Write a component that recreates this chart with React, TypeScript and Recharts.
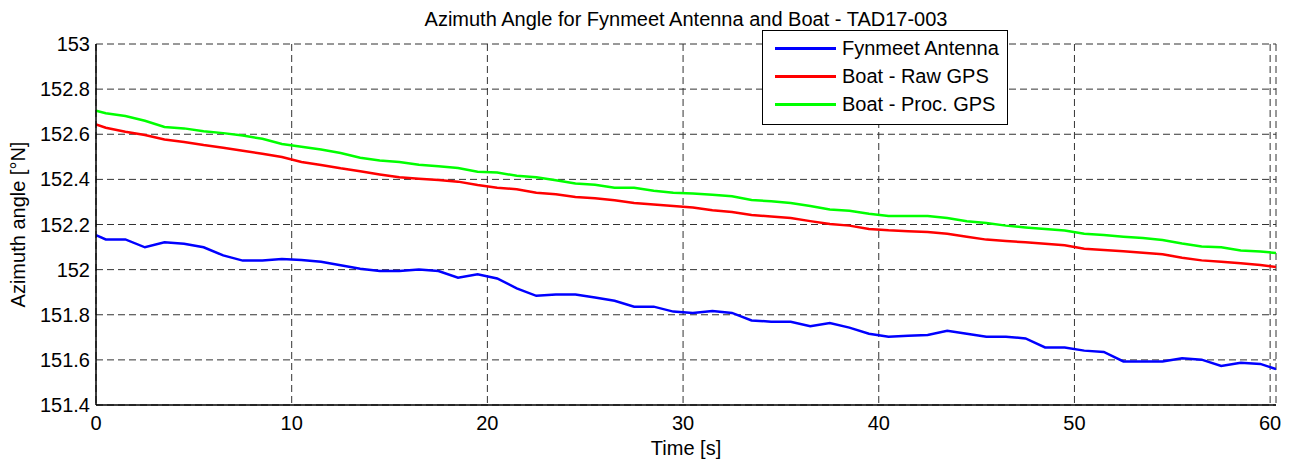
import React from 'react';
import {
  LineChart,
  Line,
  XAxis,
  YAxis,
  CartesianGrid,
  Legend,
} from 'recharts';

const timeS = [
  0, 0.5, 1.5, 2.5, 3.5, 4.5, 5.5, 6.5, 7.5, 8.5, 9.5, 10.5, 11.5, 12.5, 13.5, 14.5,
  15.5, 16.5, 17.5, 18.5, 19.5, 20.5, 21.5, 22.5, 23.5, 24.5, 25.5, 26.5, 27.5, 28.5,
  29.5, 30.5, 31.5, 32.5, 33.5, 34.5, 35.5, 36.5, 37.5, 38.5, 39.5, 40.5, 41.5, 42.5,
  43.5, 44.5, 45.5, 46.5, 47.5, 48.5, 49.5, 50.5, 51.5, 52.5, 53.5, 54.5, 55.5, 56.5,
  57.5, 58.5, 59.5, 60.3,
];

const fynmeetAntenna = [
  152.153, 152.134, 152.134, 152.099, 152.121, 152.115, 152.099, 152.063, 152.04, 152.04,
  152.047, 152.043, 152.035, 152.019, 152.004, 151.994, 151.994, 152.0, 151.994, 151.964,
  151.979, 151.961, 151.917, 151.884, 151.89, 151.89, 151.876, 151.862, 151.836, 151.836,
  151.814, 151.808, 151.817, 151.808, 151.775, 151.769, 151.769, 151.749, 151.763, 151.743,
  151.716, 151.703, 151.707, 151.71, 151.729, 151.716, 151.703, 151.703, 151.695, 151.655,
  151.655, 151.641, 151.635, 151.593, 151.593, 151.593, 151.607, 151.601, 151.573, 151.587,
  151.582, 151.559,
];

const boatRawGps = [
  152.644, 152.629, 152.611, 152.597, 152.577, 152.566, 152.552, 152.54, 152.527, 152.514,
  152.499, 152.477, 152.464, 152.449, 152.436, 152.422, 152.409, 152.403, 152.397, 152.39,
  152.375, 152.363, 152.356, 152.341, 152.334, 152.322, 152.316, 152.307, 152.295, 152.289,
  152.282, 152.275, 152.263, 152.255, 152.242, 152.236, 152.229, 152.215, 152.202, 152.195,
  152.18, 152.174, 152.17, 152.167, 152.159, 152.146, 152.133, 152.127, 152.121, 152.115,
  152.108, 152.093, 152.087, 152.081, 152.075, 152.068, 152.053, 152.041, 152.035, 152.028,
  152.02, 152.012,
];

const boatProcGps = [
  152.704, 152.693, 152.681, 152.66, 152.632, 152.626, 152.613, 152.605, 152.594, 152.58,
  152.557, 152.545, 152.532, 152.517, 152.496, 152.484, 152.477, 152.465, 152.458, 152.45,
  152.434, 152.43, 152.416, 152.409, 152.396, 152.382, 152.376, 152.363, 152.363, 152.35,
  152.341, 152.337, 152.332, 152.325, 152.309, 152.303, 152.295, 152.282, 152.267, 152.261,
  152.248, 152.238, 152.238, 152.238, 152.229, 152.214, 152.207, 152.195, 152.187, 152.18,
  152.173, 152.159, 152.153, 152.146, 152.14, 152.131, 152.116, 152.103, 152.099, 152.085,
  152.08, 152.074,
];

const xTicks = [0, 10, 20, 30, 40, 50, 60];
const yTicks = [151.4, 151.6, 151.8, 152, 152.2, 152.4, 152.6, 152.8, 153];
const xDomain = [0, 60.3];
const yDomain = [151.4, 153];

const seriesNames = ['Fynmeet Antenna', 'Boat - Raw GPS', 'Boat - Proc. GPS'];
const seriesKeys = ['antenna', 'raw', 'proc'];
const seriesColors = ['#0000ff', '#ff0000', '#00ff00'];

const titleText = 'Azimuth Angle for Fynmeet Antenna and Boat - TAD17-003';
const xLabelText = 'Time [s]';
const yLabelText = 'Azimuth angle [\u00B0N]';

const data = timeS.map((t, i) => ({
  t,
  antenna: fynmeetAntenna[i],
  raw: boatRawGps[i],
  proc: boatProcGps[i],
}));

const FONT = "'Liberation Sans', Arial, Helvetica, sans-serif";
const FS = 20;

const fmtY = (v: number) => String(Math.round(v * 10) / 10);

const LegendBox = () => (
  <div
    style={{
      width: 244,
      height: 90,
      border: '1px solid #000',
      background: '#fff',
      paddingTop: 3,
      boxSizing: 'content-box',
      fontFamily: FONT,
      fontSize: FS,
      color: '#000',
    }}
  >
    {seriesNames.map((n, i) => (
      <div
        key={n}
        style={{ height: 28.3, display: 'flex', alignItems: 'center' }}
      >
        <div
          style={{
            marginLeft: 12,
            width: 61,
            height: 3,
            background: seriesColors[i],
          }}
        />
        <span style={{ marginLeft: 6, whiteSpace: 'nowrap' }}>{n}</span>
      </div>
    ))}
  </div>
);

const YLabel = (props: any) => {
  const vb = props.viewBox || { x: 0, y: 44, width: 96, height: 361 };
  const cy = vb.y + vb.height / 2;
  const cx = 18;
  return (
    <text
      x={cx}
      y={cy}
      transform={`rotate(-90 ${cx} ${cy})`}
      textAnchor="middle"
      dominantBaseline="central"
      fontFamily={FONT}
      fontSize={FS}
      fill="#000"
    >
      {yLabelText}
    </text>
  );
};

const XLabel = (props: any) => {
  const vb = props.viewBox || { x: 96, y: 405, width: 1180, height: 63 };
  const cx = vb.x + vb.width / 2;
  return (
    <text
      x={cx}
      y={455}
      textAnchor="middle"
      fontFamily={FONT}
      fontSize={FS}
      fill="#000"
    >
      {xLabelText}
    </text>
  );
};

export default function App() {
  return (
    <div
      style={{
        position: 'absolute',
        left: 0,
        top: 0,
        width: 1293,
        height: 468,
        background: '#fff',
        fontFamily: FONT,
      }}
    >
      <div
        style={{
          position: 'absolute',
          left: 96,
          width: 1180,
          top: 9,
          textAlign: 'center',
          fontSize: FS,
          lineHeight: `${FS}px`,
          color: '#000',
          whiteSpace: 'nowrap',
          zIndex: 2,
        }}
      >
        {titleText}
      </div>
      <LineChart
        width={1293}
        height={468}
        data={data}
        margin={{ top: 44, right: 17, bottom: 0, left: 0 }}
      >
        <CartesianGrid
          stroke="#333"
          strokeDasharray="7 4"
          strokeWidth={1}
        />
        <XAxis
          dataKey="t"
          type="number"
          domain={xDomain}
          ticks={xTicks}
          allowDataOverflow
          height={63}
          tickLine={false}
          tickSize={0}
          tickMargin={11}
          axisLine={{ stroke: '#000', strokeWidth: 1.5 }}
          tick={{ fill: '#000', fontSize: FS, fontFamily: FONT }}
          interval={0}
          label={<XLabel />}
        />
        <XAxis
          xAxisId="topIn"
          orientation="top"
          mirror
          dataKey="t"
          type="number"
          domain={xDomain}
          ticks={xTicks}
          allowDataOverflow
          height={0}
          tickSize={11}
          tick={false}
          tickLine={{ stroke: '#000' }}
          axisLine={{ stroke: '#000', strokeWidth: 1.5 }}
        />
        <XAxis
          xAxisId="botIn"
          orientation="bottom"
          mirror
          dataKey="t"
          type="number"
          domain={xDomain}
          ticks={xTicks}
          allowDataOverflow
          height={0}
          tickSize={11}
          tick={false}
          tickLine={{ stroke: '#000' }}
          axisLine={false}
        />
        <YAxis
          type="number"
          domain={yDomain}
          ticks={yTicks}
          allowDataOverflow
          width={96}
          tickLine={false}
          tickSize={0}
          tickMargin={6}
          tickFormatter={fmtY}
          axisLine={{ stroke: '#000', strokeWidth: 1.5 }}
          tick={{ fill: '#000', fontSize: FS, fontFamily: FONT }}
          interval={0}
          label={<YLabel />}
        />
        <YAxis
          yAxisId="leftIn"
          orientation="left"
          mirror
          type="number"
          domain={yDomain}
          ticks={yTicks}
          allowDataOverflow
          width={0}
          tickSize={11}
          tick={false}
          tickLine={{ stroke: '#000' }}
          axisLine={false}
        />
        <YAxis
          yAxisId="rightIn"
          orientation="right"
          mirror
          type="number"
          domain={yDomain}
          ticks={yTicks}
          allowDataOverflow
          width={0}
          tickSize={11}
          tick={false}
          tickLine={{ stroke: '#000' }}
          axisLine={{ stroke: '#000', strokeWidth: 1.5 }}
        />
        {seriesKeys.map((k, i) => (
          <Line
            key={k}
            dataKey={k}
            name={seriesNames[i]}
            stroke={seriesColors[i]}
            strokeWidth={2.5}
            dot={false}
            activeDot={false}
            type="linear"
            isAnimationActive={false}
          />
        ))}
        <Legend
          layout="horizontal"
          align="center"
          verticalAlign="middle"
          content={<LegendBox />}
          wrapperStyle={{ left: 762, top: 30, width: 'auto', height: 'auto' }}
        />
      </LineChart>
    </div>
  );
}
